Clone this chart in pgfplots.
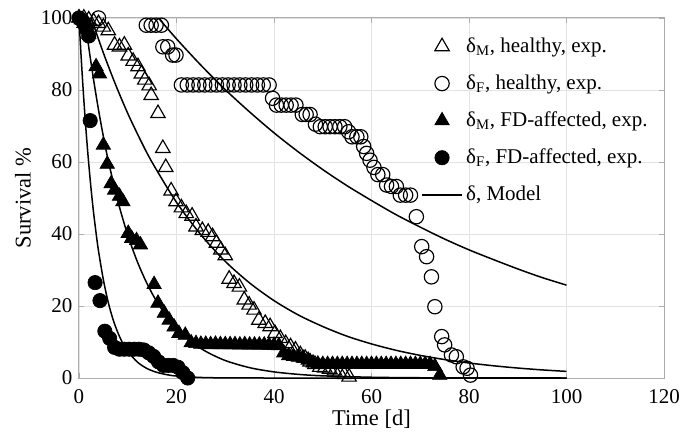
\documentclass[border=0pt]{standalone}
\usepackage{pgfplots}
\pgfplotsset{compat=1.18}
\usepackage{fontspec}
\setmainfont{Liberation Serif}
\begin{document}
\begin{tikzpicture}
\begin{axis}[
  name=ax,
  scale only axis,
  width=351pt, height=216pt,
  xmin=0, xmax=120, ymin=0, ymax=100,
  xtick={0,20,...,120}, ytick={0,20,...,100},
  grid=major,
  major grid style={gray!22, line width=0.5pt},
  axis line style={gray!65, line width=0.6pt},
  tick style={gray!65, line width=0.5pt},
  major tick length=3pt,
  tick align=inside,
  tick label style={font=\fontsize{12.6}{14}\selectfont},
  xticklabel style={yshift=-3.5pt},
  yticklabel style={xshift=-0.5pt},
  /pgf/number format/assume math mode=true,
  xlabel={Time [d]}, ylabel={Survival \%},
  label style={font=\fontsize{13.5}{15}\selectfont},
  xlabel style={yshift=3pt},
  ylabel style={yshift=-1pt},
  clip=false,
  legend style={at={(0.576,0.964)}, anchor=north west, draw=none, fill=none,
    font=\fontsize{12.6}{14}\selectfont, row sep=7.9pt},
  legend cell align=left,
  legend image code/.code={\draw[mark repeat=2,mark phase=2,#1] plot coordinates {(0pt,0pt) (12pt,0pt) (24pt,0pt)};},
]
% delta_M healthy
\addplot[only marks, mark=triangle, mark size=5pt, line width=0.7pt, black] coordinates {
(0,100)(1,100)(2,99.5)(3,99)(4,98.5)(5,97.5)(6,96.5)(7.3,92.5)(8.3,92)(9.3,92.5)
(10.1,89.5)(11.1,88)(12.1,86.5)(12.8,84.5)(13.5,82.8)(14.4,81.2)(14.8,78.5)(16.2,73.5)
(17.2,63.8)(17.8,58.5)(18.9,52)(19.9,49)(21,47.3)(22,45.7)(23.2,45)(24,42)(25.3,41)
(26.5,40.5)(27.4,39.3)(28.2,37.5)(29.1,35.6)(30,34)(30.8,27.5)(31.8,26.3)(32.9,25.3)
(33.9,21.7)(34.9,20.3)(35.9,18.9)(36.9,16.1)(38.2,15.2)(39.2,14.3)(40.2,12.4)(41.3,11)
(42.4,9.6)(43.4,8.7)(44.4,7.8)(45.4,6.5)(46.4,5.5)(47.4,4.5)(48.4,3.8)(49.4,3)(50.4,2.8)
(51.4,2.5)(52.4,2)(53.4,1.5)(54.4,1)(55.4,0.3)};
\addlegendentry{δ\textsubscript{M}, healthy, exp.}
% delta_F healthy
\addplot[only marks, mark=o, mark size=4.3pt, line width=0.7pt, black] coordinates {
(4,100)(13.8,98)(14.8,98)(15.8,98)(16.9,98)(17.2,92)(18.2,92)(19.2,89.7)(19.9,89.7)
(21,81.4)(22.2,81.4)(23.4,81.4)(24.6,81.4)(25.8,81.4)(27,81.4)(28.2,81.4)(29.4,81.4)
(30.6,81.4)(31.8,81.4)(33,81.4)(34.2,81.4)(35.4,81.4)(36.6,81.4)(37.8,81.4)(39,81.4)
(39.7,77.7)(40.5,75.8)(41.5,75.8)(42.5,75.8)(43.5,75.8)(44.5,75.8)(45.8,73.2)(46.6,73.2)
(47.4,73.2)(48.5,70.5)(49.5,69.8)(50.5,69.8)(51.5,69.8)(52.5,69.8)(53.5,69.8)(54.5,69.8)
(55.3,68.4)(56,67)(57,67)(57.8,67)(58.4,64.3)(59,62.4)(59.7,60.5)(60.5,58.5)(61.3,56.5)
(62.3,56.5)(63.1,53.6)(64.1,53.2)(65.1,53.2)(65.9,50.8)(67,50.8)(68,50.8)(69.2,44.8)
(70.3,36.5)(71.3,33.7)(72.3,28.1)(73,19.8)(74.4,11.5)(75,9.2)(76.4,6.4)(77.4,5.9)
(78.8,3.1)(79.6,2.7)(80.3,0.8)};
\addlegendentry{δ\textsubscript{F}, healthy, exp.}
% delta_M FD-affected
\addplot[only marks, mark=triangle*, mark size=5pt, black] coordinates {
(0,100)(0.5,99.5)(1,98.5)(1.5,97)(2,95.5)(3.5,86.5)(4.2,84.5)(5,64.7)(5.8,59.4)(6.6,54)
(7.3,52.2)(8.3,50.5)(9,49)(10.1,40.2)(10.8,38.8)(11.8,38.2)(12.6,37)(15.4,26)(16.2,20.8)
(17.5,18)(18.5,16.1)(19.5,14.2)(20.5,12.4)(21.8,11.9)(23,9.8)(24,9.6)(25,9.4)(26,9.4)
(27,9.3)(28,9.4)(29,9.3)(30,9.3)(31,9.3)(32,9.3)(33,9.2)(34,9.3)(35,9.2)(36,9.2)(37,9.2)
(38,9.2)(39,9.1)(40,9.1)(41,9)(42,7)(43,6.2)(44,6)(45,5.8)(46,5.5)(47,5)(48,4.2)(49,3.9)
(50,3.8)(51,3.8)(52,3.8)(53,3.8)(54,3.8)(55,3.8)(56,3.8)(57,3.8)(58,3.8)(59,3.8)(60,3.8)
(61,3.8)(62,3.8)(63,3.8)(64,3.8)(65,3.8)(66,3.8)(67,3.8)(68,3.8)(69,3.8)(70,3.8)(71,3.8)
(72,3.8)(73,3.2)(74,0.8)};
\addlegendentry{δ\textsubscript{M}, FD-affected, exp.}
% delta_F FD-affected
\addplot[only marks, mark=*, mark size=4.3pt, black] coordinates {
(0,100)(0.5,99.5)(1,98.5)(1.5,97)(2,95)(2.3,71.5)(3.3,26.5)(4.3,21.5)(5.3,13)(6.3,11)
(7.3,8.5)(8.3,8)(9.3,8)(10.3,8)(11.3,8)(12.3,8)(13.3,7.8)(14.3,7)(15.3,6)(16.3,4.5)
(17.3,3.5)(18.3,3.5)(19.3,3.5)(20.3,3)(21.3,1.5)(22.3,0)};
\addlegendentry{δ\textsubscript{F}, FD-affected, exp.}
% models
\addplot[black, line width=0.9pt, smooth, no marks] coordinates {
(16.3,100)(20,94.2)(25,86.9)(30,80.1)(35,73.9)(40,68.1)(45,62.8)(50,57.9)(55,53.4)
(60,49.3)(65,45.4)(70,41.9)(75,38.6)(80,35.6)(85,32.9)(90,30.3)(95,27.9)(100,25.8)};
\addlegendentry{δ, Model}
\addplot[black, line width=0.9pt, smooth, no marks, forget plot] coordinates {
(2.5,100)(5,90.3)(7.5,81.5)(10,73.5)(12.5,66.4)(15,59.9)(20,48.8)(25,39.8)(30,32.4)
(35,26.4)(40,21.5)(45,17.5)(50,14.3)(55,11.6)(60,9.47)(65,7.71)(70,6.28)(75,5.12)
(80,4.17)(85,3.40)(90,2.77)(95,2.25)(100,1.84)};
\addplot[black, line width=0.9pt, smooth, no marks, forget plot] coordinates {
(1.2,100)(2,91.9)(3,82.8)(4,74.5)(5,67.1)(6,60.4)(8,49.0)(10,39.7)(12,32.2)(14,26.1)
(16,21.1)(18,17.1)(20,13.9)(23,10.1)(26,7.40)(30,4.86)(35,2.87)(40,1.70)(45,1.01)
(50,0.60)(60,0.21)(70,0.07)(80,0.03)(100,0)};
\addplot[black, line width=0.9pt, smooth, no marks, forget plot] coordinates {
(0,100)(0.5,87.8)(1,77.1)(1.5,67.7)(2,59.5)(2.5,52.2)(3,45.8)(3.5,40.3)(4,35.3)(5,27.3)
(6,21.0)(7,16.2)(8,12.5)(9,9.6)(10,7.4)(12,4.4)(14,2.6)(16,1.56)(18,0.93)(20,0.55)
(25,0.15)(30,0.04)(40,0)(100,0)};
\end{axis}
\pgfresetboundingbox
\path[use as bounding box] ([shift={(-47.4pt,-33pt)}]ax.south west) rectangle ([shift={(10.2pt,10.8pt)}]ax.north east);
\end{tikzpicture}
\end{document}
